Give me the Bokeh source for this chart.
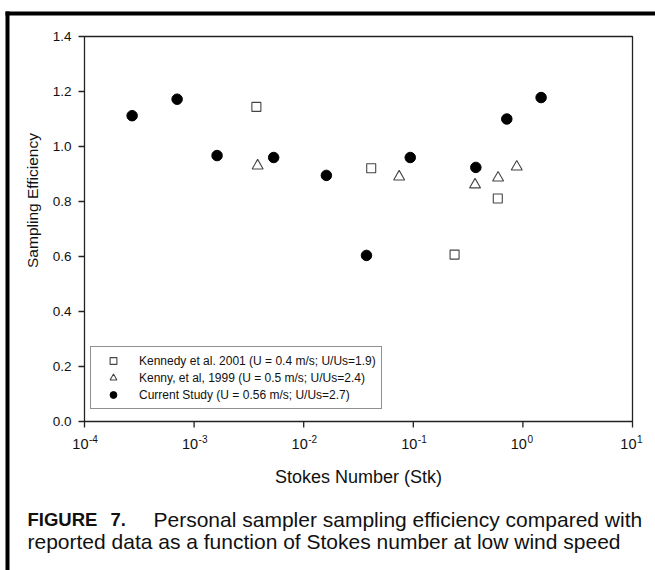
import math
from bokeh.plotting import figure
from bokeh.models import Label, BoxAnnotation, Range1d
from bokeh.core.properties import value
from bokeh.embed import file_html
from bokeh.resources import INLINE

# ---- data ----
kennedy_stk = [3.70e-3, 4.13e-2, 0.238, 0.590]
kennedy_eff = [1.144, 0.921, 0.607, 0.811]

kenny_stk = [3.80e-3, 7.43e-2, 0.366, 0.594, 0.879]
kenny_eff = [0.930, 0.890, 0.861, 0.886, 0.926]

current_stk = [2.72e-4, 7.0e-4, 1.62e-3, 5.32e-3, 1.61e-2, 3.74e-2, 9.38e-2, 0.372, 0.713, 1.466]
current_eff = [1.112, 1.172, 0.967, 0.960, 0.895, 0.604, 0.960, 0.924, 1.100, 1.178]

series_labels = [
    "Kennedy et al. 2001 (U = 0.4 m/s; U/Us=1.9)",
    "Kenny, et al, 1999 (U = 0.5 m/s; U/Us=2.4)",
    "Current Study (U = 0.56 m/s; U/Us=2.7)",
]

x_ticks = [1e-4, 1e-3, 1e-2, 1e-1, 1e0, 1e1]
x_tick_base = ["10", "10", "10", "10", "10", "10"]
x_tick_exponents = ["-4", "-3", "-2", "-1", "0", "1"]
y_ticks = [0.0, 0.2, 0.4, 0.6, 0.8, 1.0, 1.2, 1.4]
y_tick_labels = ["0.0", "0.2", "0.4", "0.6", "0.8", "1.0", "1.2", "1.4"]
x_min, x_max = 1e-4, 1e1
y_min, y_max = 0.0, 1.4

x_title = "Stokes Number (Stk)"
y_title = "Sampling Efficiency"
caption_bold = ["FIGURE", "7."]
caption_line1 = "Personal sampler sampling efficiency compared with"
caption_line2 = "reported data as a function of Stokes number at low wind speed"

FONT = "Liberation Sans"
INK = "#111111"
FRAME = "#222222"

# ---- layout geometry (page pixels; the canvas starts at page (0, 0)) ----
W, H = 655, 570
PL, PR, PT, PB = 84, 632, 36, 421          # plot box in page pixels
dec_px = (PR - PL) / math.log10(x_max / x_min)
unit_px = (PB - PT) / (y_max - y_min)

def dx(px):
    return x_min * 10 ** ((px - PL) / dec_px)

def dy(py):
    return y_min + (PB - py) / unit_px

p = figure(width=W, height=H, x_axis_type="log",
           x_range=Range1d(dx(0), dx(W)), y_range=Range1d(dy(H), dy(0)),
           x_axis_location=None, y_axis_location=None,
           min_border=0, output_backend="svg", toolbar_location=None)
p.outline_line_color = None
p.background_fill_color = "white"
p.border_fill_color = "white"
p.grid.visible = False
p.renderers = [r for r in p.renderers if r.__class__.__name__ != "Grid"]

# plot box
p.quad(left=[x_min], right=[x_max], bottom=[y_min], top=[y_max],
       fill_alpha=0, line_color=FRAME, line_width=1.3)

# ticks
p.ray(x=x_ticks, y=[y_min] * len(x_ticks), length=6, length_units="screen",
      angle=-math.pi / 2, line_color=FRAME, line_width=1.3)
p.ray(x=[x_min] * len(y_ticks), y=y_ticks, length=6, length_units="screen",
      angle=math.pi, line_color=FRAME, line_width=1.3)

# tick labels
p.text(x=x_ticks, y=[y_min] * len(x_ticks), text=x_tick_base,
       x_offset=4, y_offset=22, text_align="right", text_baseline="middle",
       text_font=value(FONT), text_font_size="14.5px", text_color=INK)
p.text(x=x_ticks, y=[y_min] * len(x_ticks), text=x_tick_exponents,
       x_offset=4.5, y_offset=17, text_align="left", text_baseline="middle",
       text_font=value(FONT), text_font_size="10px", text_color=INK)
p.text(x=[x_min] * len(y_ticks), y=y_ticks, text=y_tick_labels,
       x_offset=-13, y_offset=0, text_align="right", text_baseline="middle",
       text_font=value(FONT), text_font_size="13.5px", text_color=INK)

# data
p.scatter(kennedy_stk, kennedy_eff, marker="square", size=9,
          fill_color="white", line_color="#444444", line_width=1.1,
          legend_label=series_labels[0])
p.scatter(kenny_stk, kenny_eff, marker="triangle", size=11,
          fill_color="white", line_color="#444444", line_width=1.1,
          legend_label=series_labels[1])
p.scatter(current_stk, current_eff, marker="circle", size=10.5,
          fill_color="black", line_color="black",
          legend_label=series_labels[2])

lg = p.legend[0]
lg.location = (90, H - 409)
lg.border_line_color = FRAME
lg.border_line_width = 1
lg.background_fill_color = "white"
lg.background_fill_alpha = 1
lg.padding = 5
lg.spacing = 0
lg.margin = 0
lg.glyph_width = 34
lg.glyph_height = 17
lg.label_height = 17
lg.label_standoff = 9
lg.label_text_font = FONT
lg.label_text_font_size = "12px"
lg.label_text_color = INK

def lab(text, px, py, size, bold=False, angle=0, align="left"):
    return Label(x=dx(px), y=dy(py), x_units="data", y_units="data",
                 text=text, text_font=FONT, text_font_size=size,
                 text_font_style="bold" if bold else "normal",
                 text_color=INK, text_align=align,
                 text_baseline="middle", angle=angle)

p.add_layout(lab(y_title, 32, 200, "15.5px", angle=math.pi / 2, align="center"))
p.add_layout(lab(x_title, 358, 476, "18px", align="center"))
p.add_layout(lab(caption_bold[0], 27, 519, "18.5px", bold=True))
p.add_layout(lab(caption_bold[1], 110, 519, "18.5px", bold=True))
p.add_layout(lab(caption_line1, 153, 519, "21px"))
p.add_layout(lab(caption_line2, 27, 541, "21px"))

# black panel lines (top and left)
p.add_layout(BoxAnnotation(left=dx(5), right=dx(W), top=dy(11), bottom=dy(15),
                           fill_color="black", fill_alpha=1, line_alpha=0))
p.add_layout(BoxAnnotation(left=dx(5), right=dx(9), top=dy(11), bottom=dy(H),
                           fill_color="black", fill_alpha=1, line_alpha=0))

open("out.html", "w").write(file_html(p, INLINE))
